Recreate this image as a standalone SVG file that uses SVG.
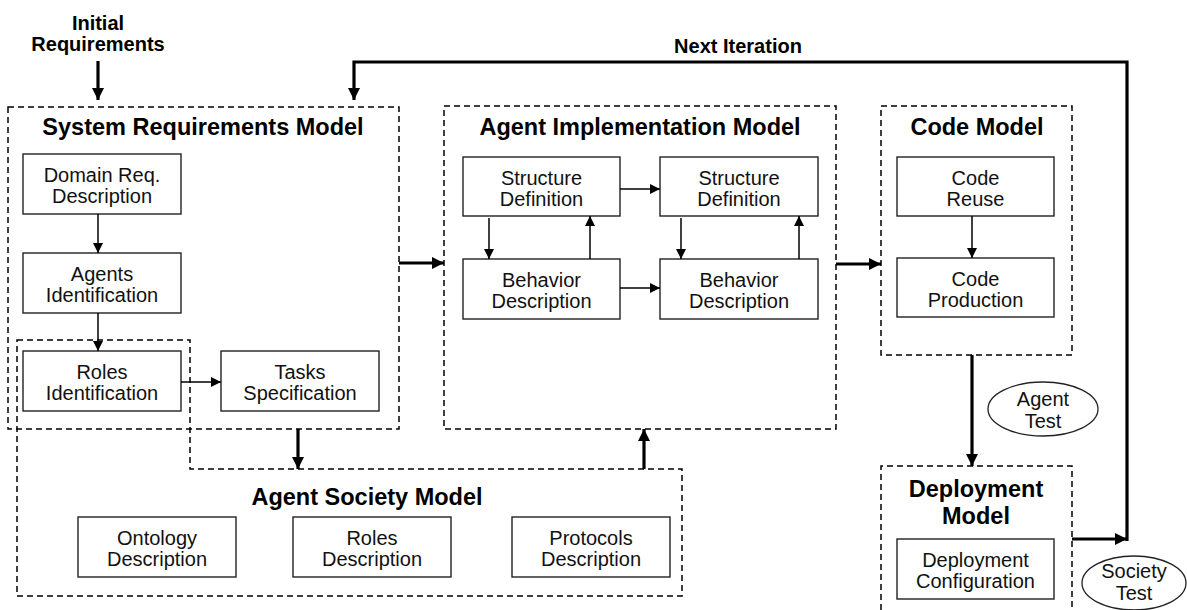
<svg xmlns="http://www.w3.org/2000/svg" width="1187" height="610" viewBox="0 0 1187 610">
<style>
.bg{fill:#fff}
.dash{fill:none;stroke:#000;stroke-width:1.5;stroke-dasharray:6 4}
.box{fill:#fff;stroke:#222;stroke-width:1.4}
.ell{fill:#fff;stroke:#222;stroke-width:1.3}
.t{font-family:"Liberation Sans",Arial,sans-serif;font-size:20px;fill:#111;text-anchor:middle}
.title{font-family:"Liberation Sans",Arial,sans-serif;font-size:23.5px;font-weight:bold;fill:#000;text-anchor:middle}
.lbl{font-family:"Liberation Sans",Arial,sans-serif;font-size:20px;font-weight:bold;fill:#000;text-anchor:middle}
.thin{fill:none;stroke:#000;stroke-width:1.5;marker-end:url(#ah)}
.thick{fill:none;stroke:#000;stroke-width:3.2;marker-end:url(#AH)}
.thickline{fill:none;stroke:#000;stroke-width:3.2}
</style>
<defs>
<marker id="ah" markerUnits="userSpaceOnUse" markerWidth="10" markerHeight="10" refX="10" refY="5" orient="auto"><path d="M0,0 L10,5 L0,10 Z" fill="#000"/></marker>
<marker id="AH" markerUnits="userSpaceOnUse" markerWidth="12" markerHeight="12" refX="12" refY="6" orient="auto"><path d="M0,0 L12,6 L0,12 Z" fill="#000"/></marker>
</defs>
<rect class="bg" x="0" y="0" width="1187" height="610"/>

<g id="label-initial">
<text class="lbl" x="98" y="30">Initial</text>
<text class="lbl" x="98" y="51">Requirements</text>
</g>
<g id="label-next">
<text class="lbl" x="738" y="53">Next Iteration</text>
</g>

<g id="agent-society-model">
<path class="dash" d="M17,340 H190 V469 H682 V596 H17 Z"/>
<text class="title" x="367" y="505">Agent Society Model</text>
</g>
<g id="system-requirements-model">
<rect class="dash" x="8" y="107" width="391" height="322"/>
<text class="title" x="203" y="135">System Requirements Model</text>
</g>
<g id="agent-implementation-model">
<rect class="dash" x="444" y="106" width="392" height="323"/>
<text class="title" x="640" y="135">Agent Implementation Model</text>
</g>
<g id="code-model">
<rect class="dash" x="881" y="106" width="191" height="249"/>
<text class="title" x="977" y="135">Code Model</text>
</g>
<g id="deployment-model">
<path class="dash" d="M881,620 V466 H1072 V620"/>
<text class="title" x="976" y="497">Deployment</text>
<text class="title" x="976" y="524">Model</text>
</g>

<g id="domain-req">
<rect class="box" x="23" y="154" width="158" height="60"/>
<text class="t" x="102" y="182">Domain Req.</text>
<text class="t" x="102" y="203">Description</text>
</g>
<g id="agents-identification">
<rect class="box" x="23" y="253" width="158" height="60"/>
<text class="t" x="102" y="281">Agents</text>
<text class="t" x="102" y="302">Identification</text>
</g>
<g id="roles-identification">
<rect class="box" x="23" y="351" width="158" height="60"/>
<text class="t" x="102" y="379">Roles</text>
<text class="t" x="102" y="400">Identification</text>
</g>
<g id="tasks-specification">
<rect class="box" x="221" y="351" width="158" height="60"/>
<text class="t" x="300" y="379">Tasks</text>
<text class="t" x="300" y="400">Specification</text>
</g>

<g id="ontology-description">
<rect class="box" x="78" y="517" width="158" height="60"/>
<text class="t" x="157" y="545">Ontology</text>
<text class="t" x="157" y="566">Description</text>
</g>
<g id="roles-description">
<rect class="box" x="293" y="517" width="158" height="60"/>
<text class="t" x="372" y="545">Roles</text>
<text class="t" x="372" y="566">Description</text>
</g>
<g id="protocols-description">
<rect class="box" x="512" y="517" width="158" height="60"/>
<text class="t" x="591" y="545">Protocols</text>
<text class="t" x="591" y="566">Description</text>
</g>

<g id="structure-definition-1">
<rect class="box" x="463" y="157" width="157" height="59"/>
<text class="t" x="541.5" y="184.5">Structure</text>
<text class="t" x="541.5" y="205.5">Definition</text>
</g>
<g id="structure-definition-2">
<rect class="box" x="660" y="157" width="158" height="59"/>
<text class="t" x="739" y="184.5">Structure</text>
<text class="t" x="739" y="205.5">Definition</text>
</g>
<g id="behavior-description-1">
<rect class="box" x="463" y="259" width="157" height="60"/>
<text class="t" x="541.5" y="287">Behavior</text>
<text class="t" x="541.5" y="308">Description</text>
</g>
<g id="behavior-description-2">
<rect class="box" x="660" y="259" width="158" height="60"/>
<text class="t" x="739" y="287">Behavior</text>
<text class="t" x="739" y="308">Description</text>
</g>

<g id="code-reuse">
<rect class="box" x="897" y="157" width="157" height="59"/>
<text class="t" x="975.5" y="184.5">Code</text>
<text class="t" x="975.5" y="205.5">Reuse</text>
</g>
<g id="code-production">
<rect class="box" x="897" y="258" width="157" height="59"/>
<text class="t" x="975.5" y="285.5">Code</text>
<text class="t" x="975.5" y="306.5">Production</text>
</g>
<g id="deployment-configuration">
<rect class="box" x="897" y="539" width="157" height="60"/>
<text class="t" x="975.5" y="567">Deployment</text>
<text class="t" x="975.5" y="588">Configuration</text>
</g>

<g id="agent-test">
<ellipse class="ell" cx="1043" cy="409" rx="55" ry="27"/>
<text class="t" x="1043" y="406">Agent</text>
<text class="t" x="1043" y="428">Test</text>
</g>
<g id="society-test">
<ellipse class="ell" cx="1134" cy="583" rx="52" ry="27"/>
<text class="t" x="1134" y="578">Society</text>
<text class="t" x="1134" y="600">Test</text>
</g>

<g id="connectors">
<path class="thick" d="M98,61 V100"/>
<path class="thick" d="M1127,541 V62 H354 V100"/>
<path class="thick" d="M1072,539 H1127"/>
<path class="thin" d="M98,214 V253"/>
<path class="thin" d="M98,313 V351"/>
<path class="thin" d="M181,382 H221"/>
<path class="thick" d="M298,429 V469"/>
<path class="thick" d="M644,469 V429"/>
<path class="thick" d="M399,263 H444"/>
<path class="thick" d="M836,264 H881"/>
<path class="thin" d="M620,189 H660"/>
<path class="thin" d="M620,288 H660"/>
<path class="thin" d="M489,218 V259"/>
<path class="thin" d="M590,259 V216"/>
<path class="thin" d="M681,218 V259"/>
<path class="thin" d="M799,259 V216"/>
<path class="thin" d="M972,216 V258"/>
<path class="thick" d="M972,355 V466"/>
</g>
</svg>
